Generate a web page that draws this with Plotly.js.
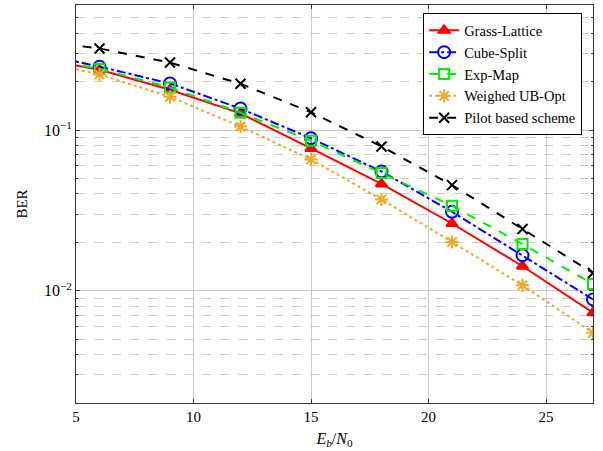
<!DOCTYPE html>
<html>
<head>
<meta charset="utf-8">
<script src="https://cdn.plot.ly/plotly-3.0.1.min.js"></script>
<style>html,body{margin:0;padding:0;background:#fff;}#chart{width:603px;height:451px;}</style>
</head>
<body>
<div id="chart"></div>
<script>
const snr = [3, 6, 9, 12, 15, 18, 21, 24, 27];
const grassLattice = [0.285, 0.237, 0.178, 0.127, 0.0768, 0.0462, 0.0262, 0.0142, 0.0073];
const cubeSplit = [0.309, 0.248, 0.195, 0.136, 0.0888, 0.0552, 0.0310, 0.0166, 0.00883];
const expMap = [0.290, 0.240, 0.184, 0.128, 0.0858, 0.0540, 0.0338, 0.0195, 0.0110];
const weighedUB = [0.276, 0.222, 0.161, 0.105, 0.0656, 0.0370, 0.0201, 0.0108, 0.00547];
const pilot = [0.364, 0.322, 0.263, 0.194, 0.129, 0.0790, 0.0454, 0.0242, 0.0129];
const seriesNames = ['Grass-Lattice', 'Cube-Split', 'Exp-Map', 'Weighed UB-Opt', 'Pilot based scheme'];
const xTicks = [5, 10, 15, 20, 25];
const yMajor = [0.01, 0.1];
const yMinor = [0.002,0.003,0.004,0.005,0.006,0.007,0.008,0.009,0.02,0.03,0.04,0.05,0.06,0.07,0.08,0.09,0.2,0.3,0.4,0.5,0.6];

const serif = '"Liberation Serif", "DejaVu Serif", serif';
function tr(y, name, color, dash, sym, size, width) {
  return {x: snr, y: y, name: name, type: 'scatter', mode: 'lines+markers',
    line: {color: color, dash: dash, width: width || 2},
    marker: {symbol: sym, size: size, color: color, line: {color: color, width: 2}}};
}
const data = [
  tr(grassLattice, seriesNames[0], '#ff0000', 'solid', 'triangle-up', 10),
  tr(cubeSplit, seriesNames[1], '#0000ff', 'dashdot', 'circle-open', 12),
  tr(expMap, seriesNames[2], '#00ee00', 'dash', 'square-open', 10),
  tr(weighedUB, seriesNames[3], '#f0a828', 'dot', 'asterisk-open', 11),
  tr(pilot, seriesNames[4], '#000000', 'dash', 'x-thin-open', 10)
];
const layout = {
  width: 603, height: 451,
  margin: {l: 76, r: 10, t: 5, b: 48},
  paper_bgcolor: '#fff', plot_bgcolor: '#fff',
  font: {family: serif, size: 15, color: '#000'},
  showlegend: true,
  legend: {x: 0.979, y: 0.979, xanchor: 'right', yanchor: 'top',
    bordercolor: '#000', borderwidth: 1, bgcolor: '#fff', itemwidth: 30,
    font: {family: serif, size: 14.5, color: '#000'}, tracegroupgap: 0},
  xaxis: {range: [5, 27], tickvals: xTicks, ticktext: xTicks.map(String),
    showgrid: true, gridcolor: '#c8c8c8', gridwidth: 1,
    showline: true, linecolor: '#333', linewidth: 1, mirror: 'ticks',
    ticks: 'inside', ticklen: 4, tickcolor: '#333', zeroline: false,
    title: {text: '<i>E<sub>b</sub></i>/<i>N</i><sub>0</sub>', font: {family: serif, size: 16}, standoff: 8},
    tickfont: {family: serif, size: 15}},
  yaxis: {type: 'log', range: [Math.log10(0.002), Math.log10(0.6)],
    tickvals: yMajor, ticktext: ['10<sup>\u22122</sup>', '10<sup>\u22121</sup>'],
    showgrid: true, gridcolor: '#c8c8c8', gridwidth: 1,
    showline: true, linecolor: '#333', linewidth: 1, mirror: 'ticks',
    ticks: 'inside', ticklen: 4, tickcolor: '#333', zeroline: false,
    minor: {tickvals: yMinor, showgrid: true, gridcolor: '#cccccc', griddash: 'dash', gridwidth: 1,
      ticks: 'inside', ticklen: 2, tickcolor: '#333'},
    title: {text: 'BER', font: {family: serif, size: 15}, standoff: 12},
    tickfont: {family: serif, size: 16}}
};
Plotly.newPlot('chart', data, layout, {displayModeBar: false, staticPlot: true});
</script>
</body>
</html>
